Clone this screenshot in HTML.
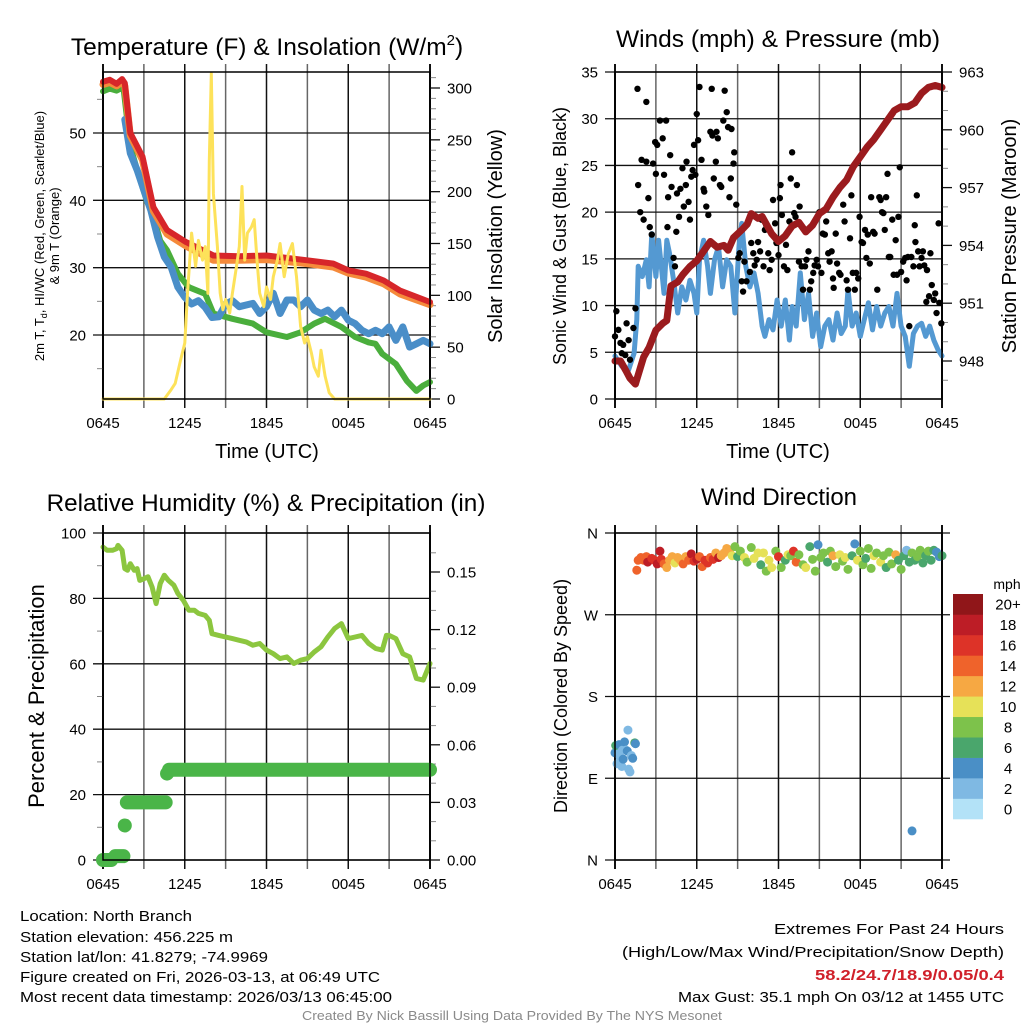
<!DOCTYPE html>
<html><head><meta charset="utf-8"><style>
html,body{margin:0;padding:0;background:#fff;}
svg{display:block;font-family:"Liberation Sans",Arial,sans-serif;}
</style></head><body>
<svg id="s" width="1024" height="1024" viewBox="0 0 1024 1024" xmlns="http://www.w3.org/2000/svg">
<rect width="1024" height="1024" fill="#fff"/>
<g id="grid"></g><g id="marks"></g><g id="frame"></g>
<g id="texts" fill="#000">
<text x="267" y="55" font-size="24.5" text-anchor="middle">Temperature (F) &amp; Insolation (W/m<tspan font-size="15" dy="-10">2</tspan><tspan dy="10">)</tspan></text>
<text x="778" y="47" font-size="24.5" text-anchor="middle">Winds (mph) &amp; Pressure (mb)</text>
<text x="266" y="511" font-size="24.3" text-anchor="middle">Relative Humidity (%) &amp; Precipitation (in)</text>
<text x="779" y="505" font-size="24" text-anchor="middle">Wind Direction</text>
<text x="267" y="458" font-size="20" text-anchor="middle">Time (UTC)</text>
<text x="778" y="458" font-size="20" text-anchor="middle">Time (UTC)</text>
<text transform="translate(44,236) rotate(-90)" font-size="13" text-anchor="middle">2m T, T<tspan font-size="9" dy="3">d</tspan><tspan dy="-3">, HI/WC (Red, Green, Scarlet/Blue)</tspan></text>
<text transform="translate(59,236) rotate(-90)" font-size="13" text-anchor="middle">&amp; 9m T (Orange)</text>
<text transform="translate(502,236) rotate(-90)" font-size="20" text-anchor="middle">Solar Insolation (Yellow)</text>
<text transform="translate(566,236) rotate(-90)" font-size="18" text-anchor="middle">Sonic Wind &amp; Gust (Blue, Black)</text>
<text transform="translate(1016,236) rotate(-90)" font-size="20" text-anchor="middle">Station Pressure (Maroon)</text>
<text transform="translate(44,696) rotate(-90)" font-size="22" text-anchor="middle">Percent &amp; Precipitation</text>
<text transform="translate(567,696) rotate(-90)" font-size="18" text-anchor="middle">Direction (Colored By Speed)</text>
<text x="1007" y="589" font-size="14" text-anchor="middle">mph</text>
<g font-family="'Liberation Sans Narrow','Liberation Sans',sans-serif" font-size="15">
<text x="20" y="921" textLength="172" lengthAdjust="spacingAndGlyphs">Location: North Branch</text>
<text x="20" y="942" textLength="213" lengthAdjust="spacingAndGlyphs">Station elevation: 456.225 m</text>
<text x="20" y="962" textLength="248" lengthAdjust="spacingAndGlyphs">Station lat/lon: 41.8279; -74.9969</text>
<text x="20" y="982" textLength="360" lengthAdjust="spacingAndGlyphs">Figure created on Fri, 2026-03-13, at 06:49 UTC</text>
<text x="20" y="1002" textLength="372" lengthAdjust="spacingAndGlyphs">Most recent data timestamp: 2026/03/13 06:45:00</text>
<text x="774" y="934" textLength="230" lengthAdjust="spacingAndGlyphs">Extremes For Past 24 Hours</text>
<text x="622" y="957" textLength="382" lengthAdjust="spacingAndGlyphs">(High/Low/Max Wind/Precipitation/Snow Depth)</text>
<text x="815" y="980" textLength="189" lengthAdjust="spacingAndGlyphs" fill="#d0202a" font-weight="bold">58.2/24.7/18.9/0.05/0.4</text>
<text x="678" y="1002" textLength="326" lengthAdjust="spacingAndGlyphs">Max Gust: 35.1 mph On 03/12 at 1455 UTC</text>
<text x="302" y="1020" font-size="12.5" textLength="420" lengthAdjust="spacingAndGlyphs" fill="#8a8a8a">Created By Nick Bassill Using Data Provided By The NYS Mesonet</text>
</g>
</g>
</svg>
<script>
// ---------- data ----------
const timeTickLabels = ["0645","1245","1845","0045","0645"];
const tempTicks = [20,30,40,50];
const tempMinorTicks = [15,25,35,45,55];
const insTicks = [0,50,100,150,200,250,300];
const windTicks = [0,5,10,15,20,25,30,35];
const presTicks = [948,951,954,957,960,963];
const rhTicks = [0,20,40,60,80,100];
const precipTicks = [0,0.03,0.06,0.09,0.12,0.15];
const precipTickLabels = ["0.00","0.03","0.06","0.09","0.12","0.15"];
const dirTicks = [0,90,180,270,360];
const dirTickLabels = ["N","E","S","W","N"];
const speedBins = ["0","2","4","6","8","10","12","14","16","18","20+"];
const speedColors = ["#b3e2f7","#7fb9e3","#4a8fc6","#4aa66c","#7dc24b","#e6e158","#f6a843","#ef632b","#dd3328","#bd1d26","#901619"];

const redTemp = [[0,57.6],[0.5,57.9],[1,57.3],[1.4,58],[1.6,57.4],[2,50],[2.9,46.5],[3.7,39],[4.7,35.6],[6.1,33.8],[8.1,31.8],[10,31.7],[12,31.8],[15,31.1],[16.9,30.6],[18,29.6],[19.3,29.1],[20.6,28.1],[21.8,26.6],[24,24.9]];
const orangeTemp = [[0,57.2],[0.5,57.5],[1,57],[1.4,57.6],[1.6,57],[2,49.6],[2.9,46],[3.7,38.4],[4.7,35],[6.1,33.2],[8.1,31.1],[10,31.1],[12,31.2],[15,30.6],[16.9,30.1],[18,29.2],[19.3,28.6],[20.6,27.6],[21.8,26.1],[24,24.5]];
const greenTemp = [[0,56.2],[0.5,56.6],[1,56.3],[1.5,56.8],[2,48],[2.5,44.5],[3.2,40],[3.7,37.6],[4.2,34],[4.7,32.6],[5.5,29.1],[6.3,27.1],[7.5,26.1],[8.1,23.2],[9.5,22.4],[11,21.7],[12,20.4],[13.5,19.7],[14.5,20.4],[15.5,21.7],[16.3,22.4],[17.5,21.2],[18.5,19.7],[19.5,18.9],[20,18.7],[20.5,17.2],[21.5,15.7],[22.3,13.2],[23,11.7],[23.5,12.5],[24,13]];
const blueTemp = [[1.6,52],[2,47],[2.5,44.5],[3,41.5],[3.5,38.6],[4,34.6],[4.5,31.6],[5,30.1],[5.5,27.1],[6,25.6],[6.5,24.6],[7,25.1],[7.5,24.1],[8,22.6],[8.5,22.7],[9,24.6],[9.5,25.1],[10,24.2],[11,24.7],[11.5,23.2],[12,24.2],[12.5,26.2],[13,23.2],[13.5,25.2],[14,25.2],[14.5,24.2],[15,25.2],[15.5,23.7],[16,23.2],[16.5,23.7],[17,22.7],[17.5,23.7],[18,22.2],[18.5,21.7],[19,20.7],[19.5,20.2],[20,20.7],[20.5,20.2],[21,21.2],[21.5,19.2],[22,21.2],[22.5,18.2],[23,18.7],[23.5,19.2],[24,18.7]];
const insolation = [[0,0],[4.5,0],[5,9],[5.3,15],[5.7,38],[6,54],[6.2,102],[6.5,160],[6.8,128],[7,153],[7.3,134],[7.5,147],[7.7,102],[7.8,230],[7.95,314],[8.1,198],[8.4,147],[8.6,102],[8.8,86],[9,96],[9.3,83],[9.5,102],[9.8,128],[10,147],[10.2,205],[10.4,134],[10.6,160],[10.9,166],[11.1,173],[11.3,134],[11.5,102],[11.8,89],[12,108],[12.3,96],[12.5,118],[12.8,134],[13,150],[13.3,118],[13.6,140],[13.9,150],[14.2,118],[14.5,70],[14.8,54],[15,60],[15.3,44],[15.5,31],[15.8,22],[16,47],[16.3,22],[16.6,6],[17,0],[24,0]];

const pressure = [[0,948],[0.4,948],[0.8,947.5],[1.1,947.1],[1.5,946.8],[1.8,947.5],[2.1,948.2],[2.5,948.7],[3,949.6],[3.5,949.95],[3.8,950.1],[4.1,951.9],[4.6,952.1],[5,952.5],[5.5,952.9],[6,953.2],[6.5,953.7],[7,954.2],[7.5,953.9],[8,954],[8.3,953.75],[8.7,954.4],[9.3,954.8],[9.7,955.1],[10,955.65],[10.5,955.4],[10.8,955.5],[11.5,954.6],[12,954.2],[12.5,954.5],[13,955],[13.5,955.2],[14,954.7],[14.5,955.05],[15,955.65],[15.5,955.9],[16,956.5],[16.5,957],[17,957.4],[17.5,958.1],[18,958.6],[18.5,959.1],[19,959.5],[19.5,960],[20,960.5],[20.5,961],[21,961.2],[21.5,961.2],[22,961.4],[22.5,961.9],[23,962.2],[23.5,962.3],[24,962.2]];
const windSpeed = [[0,4.6],[0.5,3.5],[1,3.1],[1.4,4.9],[1.6,8.5],[1.7,14.2],[2,13.1],[2.3,14.9],[2.5,12],[2.7,17.7],[3,13.1],[3.2,17],[3.4,14.2],[3.6,11.3],[3.8,17],[4,15.6],[4.3,12.7],[4.6,9.2],[4.9,12],[5.2,10.6],[5.5,12.7],[5.8,11.3],[6,9.2],[6.2,14.9],[6.5,17],[6.8,14.2],[7,11.3],[7.3,14.9],[7.6,16.3],[7.9,12],[8.2,14.9],[8.5,14.2],[8.8,9.2],[9.1,16.3],[9.3,18.8],[9.6,14.2],[9.9,12],[10.2,13.5],[10.5,11.3],[10.8,7.8],[11,6.7],[11.3,8.5],[11.6,7.4],[11.9,10.6],[12.2,7.8],[12.5,10.6],[12.8,6.3],[13,9.9],[13.3,7.8],[13.6,13.5],[13.9,8.5],[14.2,11.3],[14.5,6.7],[14.8,9.2],[15.1,5.6],[15.4,7.8],[15.7,8.5],[16,6.3],[16.3,9.2],[16.6,7],[16.9,7.8],[17.1,11.7],[17.4,7.8],[17.7,9.2],[18,6.7],[18.3,8.5],[18.6,10.3],[18.9,7.4],[19.2,9.9],[19.5,7.8],[19.8,9.2],[20.1,9.9],[20.4,7.8],[20.7,11.3],[21,7.8],[21.3,6.7],[21.6,3.5],[21.9,7],[22.2,7.8],[22.5,8.1],[22.8,6.7],[23.1,7.8],[23.4,6.3],[23.7,5.3],[24,4.6]];
const gusts = [[0,6.7],[0.1,9.4],[0.25,7.4],[0.4,6],[0.5,4.9],[0.6,5.8],[0.75,4.7],[0.85,8.1],[1,6.3],[1.1,4.2],[1.35,7.6],[1.5,9.7],[1.65,33.2],[1.7,22.9],[1.85,20],[1.95,25.6],[2.1,19.2],[2.3,25.4],[2.3,31.8],[2.45,21.5],[2.55,18.4],[2.7,17.6],[2.8,25.2],[2.95,27.5],[3,24.1],[3.1,27.2],[3.3,29.8],[3.5,27.9],[3.6,24],[3.75,29.8],[3.85,18.4],[3.9,21.6],[4.05,26.1],[4.15,22.7],[4.3,15.1],[4.4,14.2],[4.5,17.9],[4.55,22],[4.7,19.5],[4.8,22.5],[4.95,24.7],[5.05,20.6],[5.2,22.9],[5.25,25.4],[5.4,21.1],[5.5,19.2],[5.6,23.8],[5.7,24.5],[5.8,27.2],[5.9,24],[6,30.5],[6.1,27.7],[6.2,33.4],[6.35,25.6],[6.5,22.5],[6.55,22.2],[6.7,20.6],[6.85,19.7],[7,28.6],[7.1,33.2],[7.15,28.2],[7.25,23.6],[7.4,25.4],[7.45,28.6],[7.55,27.9],[7.7,22.9],[7.8,22.7],[7.95,29.8],[8.05,33],[8.2,30.7],[8.3,29.1],[8.4,21.6],[8.5,23.6],[8.55,28.9],[8.7,25.2],[8.75,26.4],[8.9,20.8],[9.05,15.1],[9.15,15.6],[9.3,12.6],[9.4,11.5],[9.5,14.7],[9.65,12.6],[9.9,13.6],[10,16.7],[10.15,15.6],[10.25,14.3],[10.4,14.9],[10.5,16.8],[10.65,15.8],[10.75,19.2],[10.9,14.2],[11,18.1],[11.1,18.6],[11.25,15.6],[11.35,13.8],[11.5,14.9],[11.6,21.3],[11.75,18.8],[11.85,16.7],[12,15.4],[12.1,21.5],[12.15,22.9],[12.25,19.7],[12.4,14.2],[12.55,16.5],[12.65,13.8],[12.8,19],[12.9,23.6],[13,26.4],[13.15,19.9],[13.25,19.5],[13.35,22.9],[13.5,14.7],[13.55,20.6],[13.7,14.2],[13.8,11.7],[13.95,14.2],[14.05,14.9],[14.2,15.8],[14.3,11.7],[14.4,12.6],[14.55,13.5],[14.65,14.3],[14.8,14.9],[14.9,14.2],[15,20],[15.15,13.5],[15.25,17.7],[15.4,17.6],[15.5,19],[15.65,15.6],[15.75,14.7],[15.9,15.8],[16,12.9],[16.05,11.9],[16.2,17.7],[16.3,14.5],[16.45,13.5],[16.55,13.3],[16.75,20.8],[16.85,19],[17,12.7],[17.1,11.7],[17.25,17.2],[17.35,21.8],[17.45,13.5],[17.6,11.7],[17.7,13.5],[17.85,12.9],[17.95,19.5],[18.1,16.8],[18.2,16.7],[18.35,18.1],[18.45,15.1],[18.55,17.6],[18.7,14.5],[18.8,21.6],[18.95,17.9],[19.05,17.7],[19.25,11.7],[19.4,21.6],[19.5,21.3],[19.6,20],[19.7,19.9],[19.8,18.1],[19.9,21.6],[20,24.1],[20.1,15.2],[20.2,15.2],[20.35,19.2],[20.45,13.3],[20.6,17],[20.7,13.3],[20.8,19.5],[20.9,24.8],[21,13.6],[21.15,14.7],[21.3,15.1],[21.4,12.7],[21.5,15.2],[21.6,7.8],[21.75,15.2],[21.9,14.2],[22,18.6],[22.05,16.8],[22.15,21.8],[22.25,15.8],[22.35,14.2],[22.5,15.1],[22.6,15.8],[22.7,14.3],[22.85,10.4],[22.9,13.8],[23.05,11],[23.15,15.6],[23.25,12.2],[23.4,10.6],[23.5,11.3],[23.6,9.2],[23.75,18.8],[23.8,10.3],[23.95,8.1]];

const relHum = [[0,95.7],[0.3,94.7],[0.7,94.7],[1,95.2],[1.1,96.2],[1.4,94.7],[1.6,89.1],[1.8,88.6],[2,90.6],[2.3,88.6],[2.5,89.1],[2.7,85.5],[3,86],[3.3,86.6],[3.6,83.5],[3.9,78.4],[4.2,84.5],[4.5,87.1],[4.8,85.5],[5.2,84],[5.5,81.5],[5.9,79.4],[6.3,76.4],[6.7,76.4],[7,75.4],[7.5,74.8],[7.8,73.3],[8,69.2],[8.5,68.7],[9,68.2],[9.5,67.7],[10,67.2],[10.5,66.7],[11,65.7],[11.5,66.2],[12,64.2],[12.5,63.1],[13,61.6],[13.5,62.1],[14,60.1],[14.5,61.1],[15,61.6],[15.5,63.6],[16,65.2],[16.5,68.2],[17,70.8],[17.5,72.3],[18,67.7],[18.5,68.2],[19,68.7],[19.5,66.2],[20,64.7],[20.5,64.2],[20.8,68.7],[21,68.7],[21.5,67.7],[22,63.1],[22.5,62.1],[23,55.5],[23.5,55],[24,60.1]];
// precipitation segments: [startHour, endHour, inches]
const precip = [[0,0.6,0],[0.9,1.5,0.002],[1.6,1.6,0.018],[1.75,4.6,0.03],[4.7,4.7,0.045],[4.85,24,0.047]];

// [hoursSinceStart, directionDeg, speedBinIndex]
const windDir = [[0,118,2],[0.05,126,3],[0.15,106,1],[0.25,117,1],[0.3,127,2],[0.35,114,1],[0.5,103,1],[0.55,121,1],[0.6,111,2],[0.7,130,2],[0.8,121,1],[0.9,120,2],[0.95,143,1],[1,100,1],[1.1,97,1],[1.2,115,1],[1.3,112,2],[1.45,129,3],[1.5,128,2],
[1.6,319,7],[1.7,330,7],[1.9,333,7],[2.1,330,7],[2.3,334,7],[2.4,328,9],[2.7,332,8],[2.9,330,8],[3.1,326,9],[3.3,340,9],[3.4,331,8],[3.6,326,7],[3.8,322,6],[4,330,6],[4.2,334,6],[4.4,327,5],[4.6,333,6],[4.8,330,6],[5,326,7],[5.2,334,6],[5.4,330,7],[5.6,337,9],[5.8,329,8],[6,331,9],[6.2,334,7],[6.4,323,7],[6.6,330,8],[6.8,327,8],[7,333,7],[7.2,331,8],[7.4,338,6],[7.6,333,9],[7.8,335,6],[8,338,6],[8.2,343,6],[8.4,340,6],[8.6,335,5],
[8.8,345,4],[9,334,3],[9.2,340,4],[9.5,333,5],[9.7,328,4],[10,344,4],[10.2,332,5],[10.5,338,5],[10.7,325,3],[10.9,338,5],[11.1,318,4],[11.3,330,5],[11.5,322,5],[11.8,340,4],[12,334,8],[12.2,322,4],[12.5,330,3],[12.7,336,5],[12.9,335,4],[13.1,340,8],[13.3,328,7],[13.5,336,4],[13.8,325,4],[14,322,5],[14.3,345,3],[14.5,331,4],[14.7,318,4],[14.9,347,2],[15.1,333,4],[15.3,338,4],[15.6,328,3],[15.8,340,4],[16,335,6],[16.2,323,4],[16.5,336,5],[16.7,329,4],[16.9,333,5],[17.1,320,4],[17.4,335,3],[17.6,348,2],[17.8,330,5],[18,340,4],[18.2,325,4],[18.4,332,3],[18.6,343,4],[18.8,321,4],[19,335,5],[19.2,338,4],[19.5,328,5],[19.7,335,4],[19.9,322,3],[20.1,339,4],[20.3,326,4],[20.6,336,6],[20.8,330,3],[21,320,4],[21.2,335,3],[21.4,341,1],[21.6,328,3],[21.8,338,4],[22,330,3],[22.2,334,4],[22.4,341,4],[22.6,327,3],[22.8,335,3],[23,340,4],[23.2,330,3],[23.4,341,3],[23.6,339,2],[23.8,334,2],[24,335,3],[21.8,32,2]];

// ---------- drawing ----------
const NS="http://www.w3.org/2000/svg";
const G=document.getElementById('grid'),M=document.getElementById('marks'),F=document.getElementById('frame'),T=document.getElementById('texts');
function mk(tag,attrs,parent){const e=document.createElementNS(NS,tag);for(const k in attrs)e.setAttribute(k,attrs[k]);parent.appendChild(e);return e;}
function lin(d0,d1,r0,r1){return v=>r0+(v-d0)*(r1-r0)/(d1-d0);}

const panels={
 temp:{L:103,R:430,T:72,B:399},
 wind:{L:615,R:942,T:72,B:399},
 rh:{L:103,R:430,T:533,B:860},
 dir:{L:615,R:942,T:533,B:860}
};
function frame(p,name){
 const x=lin(0,24,p.L,p.R);
 for(let h=0;h<=24;h+=3){
  const l=mk('line',{x1:x(h),x2:x(h),y1:p.T-8,y2:p.B+9,stroke:(h%6==0)?'#111':'#666','stroke-width':(h==0||h==24)?2:1.5},G);
  
  
 }
 timeTickLabels.forEach((s,i)=>{
  const t=mk('text',{x:x(i*6),y:p.B+29,'font-size':15,'text-anchor':'middle'},T);t.textContent=s;
  
  
 });
 const r=mk('rect',{x:p.L,y:p.T,width:p.R-p.L,height:p.B-p.T,fill:'none',stroke:'#000','stroke-width':1.5},F);
 
 
 return x;
}
function leftAxis(p,name,ticks,labels,y,ext){
 ticks.forEach((v,i)=>{
  mk('line',{x1:p.L-10,x2:ext||p.R,y1:y(v),y2:y(v),stroke:'#111','stroke-width':1.3},G);
  const t=mk('text',{x:p.L-17,y:y(v)+5.5,'font-size':15,'text-anchor':'end'},T);t.textContent=labels?labels[i]:v;
  
  
 });
}
function minorTicks(xa,xb,vals,y){
 vals.forEach(v=>{if(y(v)>=72&&y(v)<=860)mk('line',{x1:xa,x2:xb,y1:y(v),y2:y(v),stroke:'#888','stroke-width':1},G);});
}
function rightAxis(p,name,ticks,labels,y){
 ticks.forEach((v,i)=>{
  mk('line',{x1:p.R,x2:p.R+10,y1:y(v),y2:y(v),stroke:'#111','stroke-width':1.3},G);
  const t=mk('text',{x:p.R+17,y:y(v)+5.5,'font-size':15},T);t.textContent=labels?labels[i]:v;
  
  
 });
}
function path(pts,x,y,color,w,name){
 const d=pts.map((p,i)=>(i?'L':'M')+x(p[0]).toFixed(1)+' '+y(p[1]).toFixed(1)).join('');
 const e=mk('path',{d:d,fill:'none',stroke:color,'stroke-width':w,'stroke-linejoin':'round','stroke-linecap':'round'},M);
 
 
 return e;
}
function dots(pts,x,y,color,r,name){
 pts.forEach(p=>{const c=mk('circle',{cx:x(p[0]),cy:y(p[1]),r:r,fill:color},M);
  
  });
}

// Temperature panel
{const p=panels.temp;const x=frame(p,'temp');
 const y=lin(50,20,133,335);const yi=lin(0,300,399,88);
 leftAxis(p,'temp',tempTicks,null,y);rightAxis(p,'insolation',insTicks,null,yi);
 minorTicks(p.L-6,p.L,tempMinorTicks,y);
 const insMinor=[];for(let v=10;v<=310;v+=10)if(v%50)insMinor.push(v);
 minorTicks(p.R,p.R+6,insMinor,yi);
 path(greenTemp,x,y,'#4aae3c',6,'dewpoint-line');
 path(blueTemp,x,y,'#4a8ec8',7,'windchill-line');
 path(orangeTemp,x,y,'#f58a3b',7,'temp-9m-line');
 path(redTemp,x,y,'#d7262a',6,'temp-2m-line');
 path(insolation,x,yi,'#fde25a',3,'insolation-line');}
// Wind panel
{const p=panels.wind;const x=frame(p,'wind');
 const y=lin(0,35,399,72);const yp=lin(948,963,361,72);
 leftAxis(p,'wind',windTicks,null,y);rightAxis(p,'pressure',presTicks,null,yp);
 const pm=[];for(let v=947;v<=962;v++)if(v%3)pm.push(v);
 minorTicks(p.R,p.R+6,pm,yp);
 path(windSpeed,x,y,'#5499d2',5,'wind-speed-line');
 dots(gusts,x,y,'#000',3.2,'gust-dot');
 path(pressure,x,yp,'#9b1b1e',7,'pressure-line');}
// RH panel
{const p=panels.rh;const x=frame(p,'rh');
 const y=lin(0,100,860,533);const yr=lin(0,0.15,860,572);
 leftAxis(p,'rh',rhTicks,null,y);rightAxis(p,'precip',precipTicks,precipTickLabels,yr);
 minorTicks(p.L-6,p.L,[10,30,50,70,90],y);
 const prm=[];for(let v=0.01;v<0.17;v+=0.01){if(Math.round(v*100)%3)prm.push(v);}
 minorTicks(p.R,p.R+6,prm,yr);
 path(relHum,x,y,'#8cc63f',5,'rh-line');
 precip.forEach(s=>{
  const e=mk('line',{x1:x(s[0]),x2:x(s[1]),y1:yr(s[2]),y2:yr(s[2]),stroke:'#4ab548','stroke-width':14,'stroke-linecap':'round'},M);
  
  
 });}
// Direction panel
{const p=panels.dir;const x=frame(p,'dir');
 const y=lin(0,360,860,533);
 leftAxis(p,'dir',dirTicks,dirTickLabels,y,950);
 windDir.forEach(d=>{const c=mk('circle',{cx:x(d[0]),cy:y(d[1]),r:4.5,fill:speedColors[d[2]]},M);
  
  });
 const bh=(819-594)/speedBins.length;
 speedBins.forEach((s,i)=>{const j=speedBins.length-1-i;
  const r=mk('rect',{x:953,y:594+j*bh,width:30,height:bh+0.3,fill:speedColors[i]},M);
  
  
  const t=mk('text',{x:1008,y:594+j*bh+bh/2+5.5,'font-size':15,'text-anchor':'middle'},T);t.textContent=s;
  
  });}
</script>
</body></html>
